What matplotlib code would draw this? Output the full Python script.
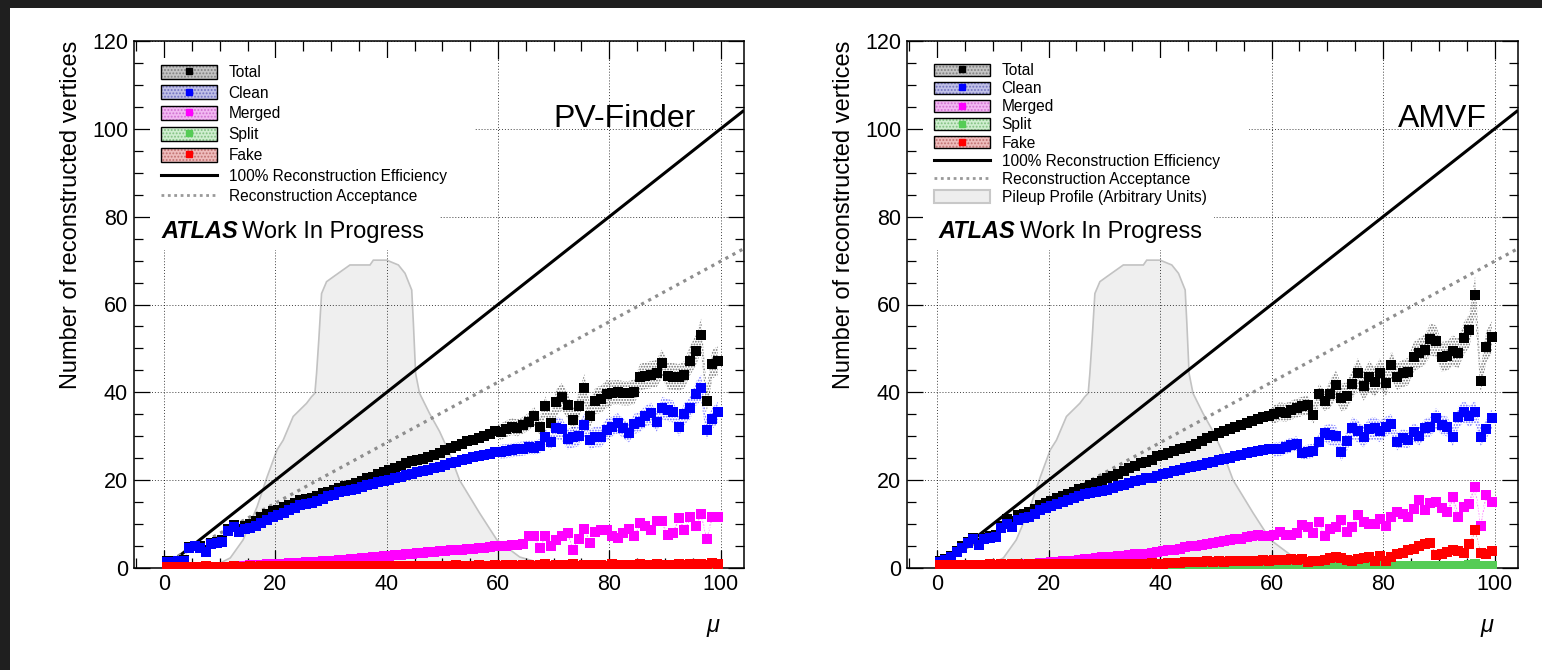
import matplotlib
matplotlib.use('Agg')
import matplotlib.pyplot as plt
import numpy as np
from matplotlib.patches import Patch, Rectangle
from matplotlib.lines import Line2D
from matplotlib.legend_handler import HandlerTuple
from matplotlib.ticker import MultipleLocator

plt.rcParams['font.family'] = ['Liberation Sans', 'DejaVu Sans']
plt.rcParams['hatch.linewidth'] = 0.9

# bin centres in mu
mu = np.arange(100) + 0.5

## PV-Finder ##
pv_total = [
    1.5, 1.5, 1.6, 1.8, 4.7, 5.1, 4.9, 4.0, 5.7, 5.9,
    6.3, 8.8, 9.8, 8.8, 9.5, 10.0, 10.8, 11.6, 12.3, 12.9,
    13.3, 13.9, 14.4, 14.9, 15.4, 15.8, 16.0, 16.5, 17.0, 17.4,
    17.8, 18.3, 18.6, 19.0, 19.4, 19.9, 20.4, 20.8, 21.3, 21.8,
    22.3, 22.7, 23.2, 23.8, 24.3, 24.6, 24.8, 25.3, 25.7, 26.2,
    26.8, 27.3, 27.7, 28.2, 28.9, 29.2, 29.6, 30.1, 30.6, 31.2,
    31.0, 31.7, 32.2, 31.9, 32.5, 33.3, 34.6, 32.2, 36.9, 33.1,
    37.7, 39.0, 37.1, 33.6, 37.0, 40.9, 34.7, 38.1, 38.4, 39.6,
    39.9, 40.0, 39.8, 39.8, 40.1, 43.4, 43.8, 44.0, 44.3, 46.6,
    43.7, 43.6, 43.4, 44.0, 47.2, 49.4, 53.1, 38.1, 46.4, 47.2]
pv_clean = [
    1.4, 1.4, 1.5, 1.6, 4.5, 4.9, 4.6, 3.7, 5.4, 5.6,
    5.9, 8.4, 9.4, 8.3, 8.8, 9.1, 9.6, 10.3, 10.9, 11.5,
    12.1, 12.6, 13.2, 13.6, 14.3, 14.6, 14.8, 15.3, 15.8, 16.3,
    16.7, 17.2, 17.6, 17.8, 18.1, 18.5, 18.9, 19.1, 19.5, 19.8,
    20.1, 20.4, 20.8, 21.2, 21.5, 21.8, 22.1, 22.4, 22.7, 23.1,
    23.5, 23.9, 24.2, 24.5, 24.9, 25.2, 25.5, 25.8, 26.0, 26.3,
    26.5, 26.6, 26.8, 27.0, 27.2, 27.5, 27.4, 27.7, 29.8, 28.6,
    31.8, 31.6, 29.3, 29.8, 30.1, 32.6, 29.2, 29.9, 29.9, 31.5,
    32.2, 33.0, 31.8, 30.7, 32.8, 33.3, 34.5, 35.2, 33.3, 36.4,
    36.0, 35.6, 32.2, 35.1, 36.4, 39.6, 41.1, 31.5, 34.0, 35.5]
pv_merged = [
    0.2, 0.2, 0.2, 0.2, 0.2, 0.2, 0.2, 0.2, 0.2, 0.2,
    0.2, 0.3, 0.4, 0.5, 0.5, 0.6, 0.7, 0.7, 0.8, 0.9,
    1.0, 1.0, 1.1, 1.2, 1.2, 1.3, 1.4, 1.4, 1.5, 1.6,
    1.7, 1.8, 1.9, 2.0, 2.1, 2.2, 2.3, 2.4, 2.6, 2.7,
    2.8, 2.9, 3.0, 3.1, 3.3, 3.4, 3.5, 3.6, 3.7, 3.8,
    3.9, 4.0, 4.1, 4.2, 4.3, 4.4, 4.5, 4.6, 4.8, 4.9,
    4.9, 5.0, 5.2, 5.3, 5.5, 7.2, 7.2, 4.5, 7.3, 4.9,
    6.4, 7.3, 7.9, 4.1, 6.6, 8.8, 5.8, 8.3, 8.7, 8.7,
    7.2, 6.8, 7.9, 8.8, 7.3, 10.2, 9.6, 8.7, 10.7, 10.6,
    7.6, 7.9, 11.3, 8.7, 11.7, 9.6, 12.3, 6.6, 11.7, 11.7]
pv_split = [
    0.0, 0.0, 0.0, 0.1, 0.0, 0.1, 0.1, 0.0, 0.1, 0.1,
    0.1, 0.1, 0.1, 0.1, 0.1, 0.1, 0.1, 0.1, 0.1, 0.1,
    0.1, 0.1, 0.1, 0.1, 0.1, 0.1, 0.1, 0.1, 0.1, 0.1,
    0.1, 0.1, 0.1, 0.1, 0.2, 0.1, 0.1, 0.2, 0.1, 0.2,
    0.2, 0.1, 0.2, 0.2, 0.2, 0.2, 0.2, 0.2, 0.2, 0.2,
    0.2, 0.2, 0.2, 0.2, 0.2, 0.2, 0.2, 0.2, 0.2, 0.2,
    0.2, 0.2, 0.2, 0.2, 0.2, 0.3, 0.2, 0.2, 0.3, 0.2,
    0.3, 0.2, 0.3, 0.2, 0.2, 0.3, 0.2, 0.3, 0.2, 0.2,
    0.3, 0.2, 0.3, 0.2, 0.2, 0.3, 0.3, 0.2, 0.3, 0.3,
    0.2, 0.3, 0.3, 0.2, 0.3, 0.3, 0.4, 0.2, 0.3, 0.3]
pv_fake = [
    0.3, 0.3, 0.2, 0.3, 0.3, 0.3, 0.3, 0.4, 0.3, 0.3,
    0.3, 0.3, 0.4, 0.3, 0.3, 0.4, 0.3, 0.4, 0.4, 0.4,
    0.4, 0.4, 0.4, 0.4, 0.5, 0.4, 0.4, 0.4, 0.5, 0.4,
    0.4, 0.5, 0.4, 0.5, 0.4, 0.5, 0.5, 0.4, 0.5, 0.5,
    0.5, 0.5, 0.5, 0.4, 0.5, 0.5, 0.5, 0.5, 0.5, 0.5,
    0.5, 0.5, 0.6, 0.5, 0.5, 0.5, 0.6, 0.5, 0.5, 0.6,
    0.5, 0.6, 0.6, 0.5, 0.6, 0.7, 0.5, 0.6, 0.8, 0.5,
    0.6, 0.7, 0.6, 0.8, 0.5, 0.7, 0.6, 0.6, 0.7, 0.5,
    0.8, 0.6, 0.7, 0.7, 0.6, 0.8, 0.6, 0.7, 0.8, 0.6,
    0.7, 0.6, 0.8, 0.7, 0.9, 0.8, 1.0, 0.7, 1.1, 0.9]

## AMVF ##
amvf_total = [
    1.6, 2.0, 2.8, 3.9, 4.9, 5.9, 6.8, 5.6, 6.9, 7.3,
    7.6, 9.6, 11.1, 10.6, 12.0, 12.4, 12.8, 13.4, 14.3, 14.8,
    15.3, 15.9, 16.4, 16.8, 17.4, 17.9, 18.3, 18.8, 19.3, 19.8,
    20.4, 20.9, 21.4, 22.1, 22.7, 23.2, 23.8, 24.2, 24.6, 25.4,
    25.8, 26.2, 26.6, 27.1, 27.3, 27.8, 28.3, 28.9, 29.5, 30.1,
    30.7, 31.2, 31.6, 32.1, 32.6, 33.1, 33.4, 33.9, 34.3, 34.6,
    35.0, 35.6, 35.4, 35.9, 36.4, 36.8, 37.1, 34.8, 39.6, 38.0,
    39.6, 41.7, 38.8, 39.2, 41.9, 44.3, 41.4, 43.6, 42.4, 44.3,
    42.1, 46.2, 43.6, 44.3, 44.7, 48.1, 48.9, 49.7, 52.1, 51.6,
    48.1, 48.3, 49.5, 48.9, 52.3, 54.1, 62.2, 42.6, 50.4, 52.5]
amvf_clean = [
    1.4, 1.8, 2.6, 3.7, 4.6, 5.6, 6.5, 5.2, 6.5, 6.8,
    7.1, 9.0, 10.1, 9.4, 10.9, 11.3, 11.7, 12.4, 13.2, 13.6,
    14.1, 14.6, 15.1, 15.5, 16.0, 16.4, 16.8, 17.1, 17.4, 17.6,
    17.8, 18.3, 18.6, 19.0, 19.3, 19.7, 20.1, 20.4, 20.6, 21.0,
    21.4, 21.6, 22.0, 22.4, 22.7, 22.9, 23.2, 23.5, 23.8, 24.2,
    24.6, 24.8, 25.1, 25.4, 25.8, 26.1, 26.5, 26.7, 26.9, 27.1,
    27.0, 27.1, 27.5, 28.0, 28.3, 26.2, 26.5, 26.7, 28.8, 30.7,
    30.3, 30.1, 26.5, 29.0, 31.8, 31.1, 29.8, 31.6, 31.8, 31.1,
    32.2, 32.8, 28.8, 29.6, 29.2, 30.9, 30.0, 31.8, 32.1, 34.1,
    32.6, 32.2, 29.8, 34.3, 35.6, 34.5, 35.6, 29.8, 31.6, 34.1]
amvf_merged = [
    0.2, 0.2, 0.2, 0.2, 0.2, 0.2, 0.2, 0.2, 0.2, 0.2,
    0.2, 0.3, 0.5, 0.6, 0.7, 0.8, 0.9, 1.0, 1.1, 1.2,
    1.3, 1.4, 1.5, 1.6, 1.7, 1.9, 2.0, 2.1, 2.2, 2.4,
    2.5, 2.6, 2.7, 2.8, 3.0, 3.1, 3.2, 3.3, 3.4, 3.6,
    3.8, 4.0, 4.2, 4.4, 4.7, 4.9, 5.1, 5.3, 5.5, 5.7,
    5.9, 6.1, 6.3, 6.5, 6.7, 7.0, 7.3, 7.5, 7.2, 7.3,
    7.6, 8.3, 7.5, 7.6, 7.9, 9.8, 9.4, 7.9, 10.4, 7.3,
    8.8, 9.4, 10.9, 8.3, 9.4, 12.1, 10.4, 10.1, 10.1, 11.1,
    9.6, 11.7, 12.8, 12.4, 11.7, 13.4, 15.5, 13.1, 14.7, 15.1,
    13.6, 12.8, 16.1, 11.6, 14.0, 14.6, 18.5, 9.6, 16.6, 15.1]
amvf_split = [
    0.1, 0.1, 0.1, 0.1, 0.2, 0.2, 0.2, 0.2, 0.2, 0.2,
    0.2, 0.2, 0.2, 0.2, 0.2, 0.2, 0.2, 0.2, 0.2, 0.2,
    0.2, 0.2, 0.2, 0.2, 0.2, 0.2, 0.3, 0.2, 0.3, 0.3,
    0.3, 0.3, 0.3, 0.3, 0.3, 0.3, 0.3, 0.3, 0.3, 0.3,
    0.3, 0.3, 0.3, 0.3, 0.3, 0.3, 0.3, 0.3, 0.3, 0.3,
    0.3, 0.3, 0.3, 0.3, 0.4, 0.3, 0.4, 0.3, 0.4, 0.4,
    0.4, 0.4, 0.4, 0.4, 0.4, 0.4, 0.4, 0.4, 0.4, 0.4,
    0.4, 0.5, 0.4, 0.4, 0.5, 0.4, 0.4, 0.5, 0.4, 0.5,
    0.5, 0.4, 0.5, 0.5, 0.5, 0.5, 0.4, 0.5, 0.5, 0.5,
    0.5, 0.5, 0.4, 0.5, 0.5, 0.6, 0.9, 0.5, 0.5, 0.5]
amvf_fake = [
    0.6, 0.6, 0.7, 0.6, 0.7, 0.7, 0.6, 0.7, 0.7, 0.8,
    0.7, 0.8, 0.7, 0.8, 0.8, 0.7, 0.8, 0.8, 0.9, 0.8,
    0.8, 0.9, 0.8, 0.9, 0.9, 0.9, 0.8, 0.9, 1.0, 0.9,
    0.9, 1.0, 0.9, 1.0, 1.0, 0.9, 1.0, 1.0, 1.1, 1.0,
    1.0, 1.1, 1.1, 1.2, 1.3, 1.4, 1.3, 1.4, 1.5, 1.4,
    1.5, 1.4, 1.6, 1.5, 1.6, 1.7, 1.6, 1.7, 1.8, 1.7,
    1.9, 1.8, 1.9, 2.0, 1.8, 2.0, 1.4, 1.6, 1.5, 1.9,
    2.2, 2.6, 2.2, 1.9, 1.5, 2.0, 2.3, 2.5, 1.7, 2.8,
    1.5, 2.5, 3.2, 3.4, 4.1, 4.4, 5.1, 5.4, 5.6, 3.0,
    3.2, 3.6, 4.0, 3.8, 3.4, 5.5, 8.6, 3.4, 3.2, 3.8]

# relative size of the shaded uncertainty band, per 10 bins of mu
band_rel = [0.06, 0.03, 0.015, 0.015, 0.02, 0.03, 0.06, 0.08, 0.07, 0.07]

# pileup profile (arbitrary units), same in both panels
pileup_mu = [9.8, 10.5, 11.9, 14.2, 16.7, 18.5, 20.3, 21.4, 23.2, 25.6, 26.5, 27.1,
             27.4, 27.8, 28.3, 29.2, 30.4, 33.4, 37.0, 37.6, 40.0, 42.1, 43.3, 43.9,
             44.5, 44.8, 45.2, 45.9, 47.7, 49.5, 51.3, 53.1, 56.7, 59.8, 63.9, 68.8, 71.0]
pileup_y = [0.0, 1.4, 2.3, 6.4, 13.9, 20.7, 26.9, 29.1, 34.5, 37.5, 39.0, 39.8,
            44.3, 51.9, 62.5, 65.2, 66.3, 69.0, 69.0, 70.1, 70.1, 69.0, 67.1, 65.2,
            63.3, 55.7, 44.3, 39.8, 35.2, 31.1, 26.1, 20.0, 12.5, 6.4, 2.5, 0.7, 0.0]

# reference lines
eff_mu = [2.2, 104.0]
eff_y = [2.2, 104.0]
acc_mu = [0.0, 104.0]
acc_y = [1.0, 72.6]

names = ['Total', 'Clean', 'Merged', 'Split', 'Fake']
colors = ['black', '#0000ff', '#ff00ff', '#55cc55', '#ff0000']
box_tints = ['#c4c4c4', '#c0c0e6', '#f2b8f2', '#cfeecf', '#eebcbc']
box_dots = ['#808080', '#7070c0', '#d070d0', '#80c080', '#c07070']


def draw_panel(ax, series, title, title_x, atlas_x, with_pileup_entry, leg_top, spacing, hheight):
    rel = np.repeat(band_rel, 10)

    ax.fill(pileup_mu, pileup_y, facecolor='#efefef', edgecolor='#c2c2c2', linewidth=1.2, zorder=0.3)
    ax.plot(eff_mu, eff_y, color='black', linewidth=2.2, zorder=1.5)
    ax.plot(acc_mu, acc_y, color='#8e8e8e', linewidth=2.3, linestyle=(0, (1, 1.5)), zorder=1.5)

    for y, c in zip(series, colors):
        y = np.array(y)
        ax.fill_between(mu, y * (1 - rel), y * (1 + rel), facecolor='none', edgecolor=c,
                        hatch='......', linewidth=0, alpha=0.55, zorder=2)
        ax.plot(mu, y, 's', color=c, markersize=6.7, markeredgewidth=0, zorder=3)

    ax.set_xlim(-5.4, 104.2)
    ax.set_ylim(0, 120)
    ax.xaxis.set_major_locator(MultipleLocator(20))
    ax.xaxis.set_minor_locator(MultipleLocator(5))
    ax.yaxis.set_major_locator(MultipleLocator(20))
    ax.yaxis.set_minor_locator(MultipleLocator(5))
    ax.tick_params(which='both', direction='in', top=True, right=True, width=0.9, labelsize=15.5)
    ax.tick_params(axis='x', which='major', length=13, pad=4)
    ax.tick_params(axis='x', which='minor', length=7.2)
    ax.tick_params(axis='y', which='major', length=11.5, pad=4.3)
    ax.tick_params(axis='y', which='minor', length=6.5)
    for sp in ax.spines.values():
        sp.set_linewidth(1.1)
    ax.set_axisbelow(True)
    ax.grid(True, which='major', color='black', linewidth=0.7, linestyle=(0, (1, 2)), alpha=0.75)

    # white backgrounds behind legend and label
    ax.add_patch(Rectangle((0.026, 0.685), 0.533, 0.283, transform=ax.transAxes,
                           facecolor='white', edgecolor='none', zorder=0.6))
    ax.add_patch(Rectangle((0.026, 0.603), 0.476, 0.085, transform=ax.transAxes,
                           facecolor='white', edgecolor='none', zorder=0.6))

    ax.set_ylabel('Number of reconstructed vertices', fontsize=17, loc='top')
    ax.yaxis.set_label_coords(-0.085, 1.0)
    ax.text(0.96, -0.121, '\u03bc', transform=ax.transAxes, ha='right', va='baseline',
            fontsize=17, fontstyle='italic')

    ax.text(title_x, 0.837, title, transform=ax.transAxes, ha='right', va='baseline', fontsize=23)
    t = ax.text(atlas_x, 0.626, 'ATLAS', transform=ax.transAxes, ha='left', va='baseline',
                fontsize=17, fontweight='bold', fontstyle='italic')
    ax.annotate('Work In Progress', xy=(1, 0), xycoords=t, xytext=(3, 0), textcoords='offset points',
                ha='left', va='bottom', fontsize=17)

    handles = []
    labels = []
    for n, c, tint, dot in zip(names, colors, box_tints, box_dots):
        h = (Patch(facecolor=tint, edgecolor=dot, hatch='.....', linewidth=0),
             Patch(facecolor='none', edgecolor='black', linewidth=1.0),
             Line2D([], [], marker='s', color=c, linestyle='none', markersize=5))
        handles.append(h)
        labels.append(n)
    handles.append(Line2D([], [], color='black', linewidth=2.2))
    labels.append('100% Reconstruction Efficiency')
    handles.append(Line2D([], [], color='#999999', linewidth=2.0, linestyle=(0, (1, 1.3))))
    labels.append('Reconstruction Acceptance')
    if with_pileup_entry:
        handles.append(Patch(facecolor='#eeeeee', edgecolor='#c8c8c8', linewidth=1.5))
        labels.append('Pileup Profile (Arbitrary Units)')

    leg = ax.legend(handles, labels, loc='upper left', bbox_to_anchor=(0.045, leg_top),
                    frameon=False, borderpad=0, borderaxespad=0, fontsize=11.2,
                    handlelength=3.6, handleheight=hheight, handletextpad=0.72,
                    labelspacing=spacing, handler_map={tuple: HandlerTuple(ndivide=1, pad=0)})
    leg.set_zorder(5)


def main():
    fig = plt.figure(figsize=(15.42, 6.70), dpi=100, facecolor='white')
    # dark strips along the top and left edge of the screenshot
    fig.add_artist(Rectangle((0, 1 - 8 / 670), 1, 8 / 670, transform=fig.transFigure,
                             facecolor='#1f1f1f', edgecolor='none', zorder=10))
    fig.add_artist(Rectangle((0, 0), 10 / 1542, 1, transform=fig.transFigure,
                             facecolor='#1f1f1f', edgecolor='none', zorder=10))

    ax1 = fig.add_axes([134 / 1542, 102 / 670, 610 / 1542, 527 / 670])
    ax2 = fig.add_axes([907 / 1542, 102 / 670, 611 / 1542, 527 / 670])

    draw_panel(ax1, [pv_total, pv_clean, pv_merged, pv_split, pv_fake],
               'PV-Finder', 0.92, 0.045, False, 0.955, 0.35, 1.0)
    draw_panel(ax2, [amvf_total, amvf_clean, amvf_merged, amvf_split, amvf_fake],
               'AMVF', 0.949, 0.052, True, 0.958, 0.2, 0.83)

    fig.savefig('out.png', dpi=100)


if __name__ == "__main__":
    main()
